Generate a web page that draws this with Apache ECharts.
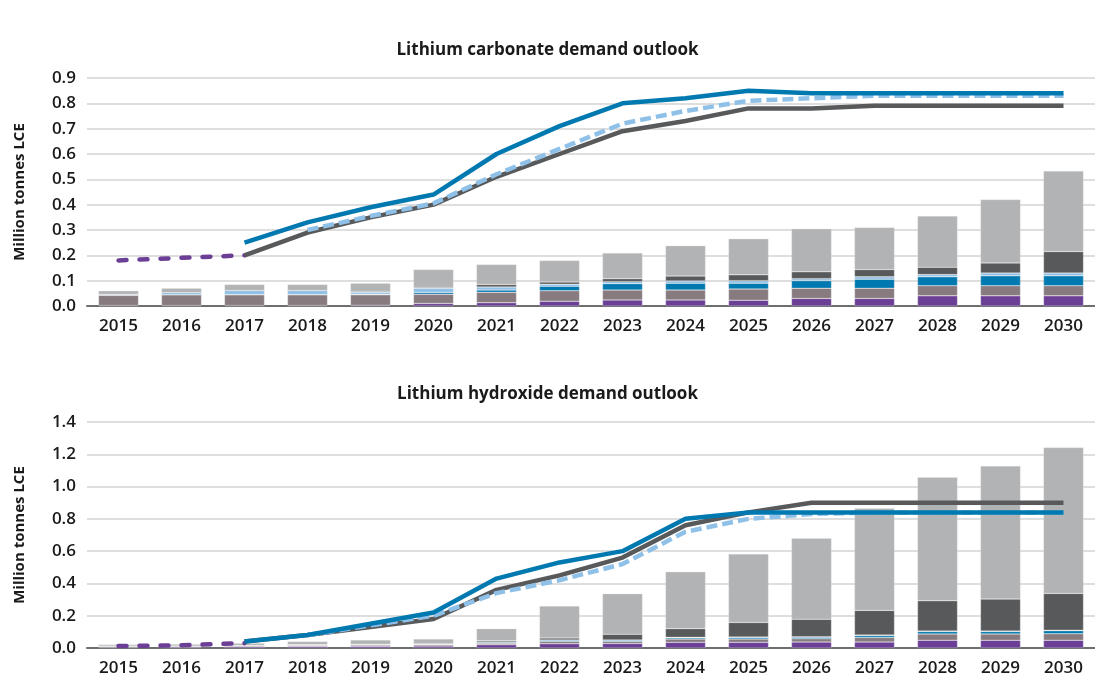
<!DOCTYPE html>
<html>
<head>
<meta charset="utf-8">
<script src="https://cdn.jsdelivr.net/npm/echarts@6/dist/echarts.min.js"></script>
<style>
  html, body { margin: 0; padding: 0; background: #fff; }
  #chart { width: 1095px; height: 680px; }
</style>
</head>
<body>
<div id="chart"></div>
<script>
const years = ["2015","2016","2017","2018","2019","2020","2021","2022","2023","2024","2025","2026","2027","2028","2029","2030"];

// Lithium carbonate - stacked bars (bottom to top)
const carbPurple    = [0.002,0.002,0.002,0.002,0.003,0.010,0.013,0.019,0.024,0.024,0.023,0.030,0.030,0.040,0.040,0.040];
const carbMauve     = [0.040,0.042,0.042,0.042,0.041,0.036,0.041,0.041,0.039,0.039,0.044,0.040,0.040,0.040,0.040,0.040];
const carbBlue      = [0.000,0.000,0.001,0.001,0.002,0.007,0.009,0.018,0.025,0.027,0.023,0.030,0.036,0.035,0.039,0.039];
const carbLightBlue = [0.004,0.009,0.016,0.016,0.008,0.017,0.012,0.008,0.008,0.009,0.010,0.008,0.009,0.009,0.011,0.011];
const carbDarkGrey  = [0.000,0.000,0.000,0.000,0.004,0.004,0.010,0.009,0.012,0.019,0.023,0.027,0.029,0.029,0.040,0.085];
const carbLightGrey = [0.014,0.017,0.024,0.024,0.032,0.070,0.079,0.085,0.101,0.120,0.142,0.170,0.166,0.202,0.250,0.318];

// Lithium carbonate - lines
const carbHist      = [0.18,0.19,0.20,null,null,null,null,null,null,null,null,null,null,null,null,null];
const carbBlueLine  = [null,null,0.25,0.33,0.39,0.44,0.60,0.71,0.80,0.82,0.85,0.84,0.84,0.84,0.84,0.84];
const carbGreyLine  = [null,null,0.20,0.29,0.35,0.40,0.51,0.60,0.69,0.73,0.78,0.78,0.79,0.79,0.79,0.79];
const carbDashLine  = [null,null,null,0.30,0.355,0.405,0.52,0.62,0.72,0.77,0.81,0.82,0.83,0.83,0.83,0.83];

// Lithium hydroxide - stacked bars (bottom to top)
const hydPurple    = [0.005,0.006,0.008,0.010,0.011,0.012,0.020,0.026,0.028,0.035,0.035,0.037,0.037,0.048,0.048,0.048];
const hydMauve     = [0.005,0.005,0.006,0.006,0.007,0.008,0.010,0.014,0.013,0.020,0.020,0.020,0.028,0.039,0.039,0.040];
const hydBlue      = [0.000,0.000,0.000,0.001,0.001,0.002,0.005,0.008,0.007,0.008,0.010,0.010,0.012,0.015,0.015,0.019];
const hydLightBlue = [0.001,0.001,0.001,0.001,0.001,0.002,0.002,0.002,0.002,0.003,0.003,0.003,0.003,0.003,0.003,0.003];
const hydDarkGrey  = [0.001,0.001,0.002,0.003,0.004,0.004,0.008,0.012,0.035,0.054,0.090,0.108,0.153,0.188,0.198,0.228];
const hydLightGrey = [0.010,0.011,0.013,0.019,0.026,0.028,0.075,0.198,0.251,0.352,0.425,0.502,0.632,0.764,0.824,0.904];

// Lithium hydroxide - lines
const hydHist      = [0.012,0.017,0.030,null,null,null,null,null,null,null,null,null,null,null,null,null];
const hydBlueLine  = [null,null,0.04,0.08,0.15,0.22,0.43,0.53,0.60,0.80,0.84,0.84,0.84,0.84,0.84,0.84];
const hydGreyLine  = [null,null,0.04,0.08,0.13,0.18,0.36,0.45,0.56,0.76,0.84,0.90,0.90,0.90,0.90,0.90];
const hydDashLine  = [null,null,null,0.08,0.14,0.20,0.34,0.42,0.52,0.72,0.80,0.83,0.84,0.84,0.84,0.84];

const colors = {
    purple: "#6c3f97",
    mauve: "#877b80",
    blue: "#0078b0",
    lightBlue: "#8fc1e8",
    darkGrey: "#58595b",
    lightGrey: "#b2b3b5"
};

const font = "'Open Sans', sans-serif";

function barSeries(name, data, color, idx, stack) {
    return {
        name: name,
        type: "bar",
        stack: stack,
        xAxisIndex: idx,
        yAxisIndex: idx,
        barWidth: 40,
        data: data,
        itemStyle: { color: color, borderColor: "rgba(230,230,230,0.6)", borderWidth: 0.5 },
        emphasis: { disabled: true },
        z: 2
    };
}

// dash: null for solid, otherwise [dash, gap] plus cap style
function lineSeries(name, data, color, idx, dash, cap) {
    return {
        name: name,
        type: "line",
        xAxisIndex: idx,
        yAxisIndex: idx,
        data: data,
        symbol: "none",
        connectNulls: false,
        lineStyle: {
            color: color,
            width: 4.5,
            type: dash || "solid",
            cap: cap || "butt"
        },
        z: 5
    };
}

function makeX(idx) {
    return {
        type: "category",
        gridIndex: idx,
        data: years,
        axisTick: { show: false },
        axisLine: { lineStyle: { color: "#6d6e70", width: 2 } },
        axisLabel: { color: "#1a1a1a", fontSize: 17, fontWeight: 600, fontFamily: font, margin: 12 }
    };
}

function makeY(idx, max, interval) {
    return {
        type: "value",
        gridIndex: idx,
        min: 0,
        max: max,
        interval: interval,
        name: "Million tonnes LCE",
        nameLocation: "middle",
        nameGap: 60,
        nameTextStyle: { color: "#1a1a1a", fontSize: 15, fontWeight: "bold", fontFamily: font },
        axisLine: { show: false },
        axisTick: { show: false },
        splitLine: { lineStyle: { color: "#dedede", width: 2 } },
        axisLabel: {
            color: "#1a1a1a", fontSize: 17, fontWeight: 600, fontFamily: font, margin: 11,
            formatter: v => v.toFixed(1)
        }
    };
}

const purpleDash = [8, 13];
const blueDash = [11, 5];

const chart = echarts.init(document.getElementById("chart"));
chart.setOption({
    animation: false,
    title: [
        { text: "Lithium carbonate demand outlook", left: "center", top: 37,
          textStyle: { fontSize: 17, fontWeight: "bold", color: "#1a1a1a", fontFamily: font } },
        { text: "Lithium hydroxide demand outlook", left: "center", top: 381,
          textStyle: { fontSize: 17, fontWeight: "bold", color: "#1a1a1a", fontFamily: font } }
    ],
    grid: [
        { left: 87, top: 78, width: 1013, height: 228 },
        { left: 87, top: 422, width: 1013, height: 226 }
    ],
    xAxis: [makeX(0), makeX(1)],
    yAxis: [makeY(0, 0.9, 0.1), makeY(1, 1.4, 0.2)],
    series: [
        barSeries("c1", carbPurple, colors.purple, 0, "carb"),
        barSeries("c2", carbMauve, colors.mauve, 0, "carb"),
        barSeries("c3", carbBlue, colors.blue, 0, "carb"),
        barSeries("c4", carbLightBlue, colors.lightBlue, 0, "carb"),
        barSeries("c5", carbDarkGrey, colors.darkGrey, 0, "carb"),
        barSeries("c6", carbLightGrey, colors.lightGrey, 0, "carb"),
        lineSeries("c hist", carbHist, colors.purple, 0, purpleDash, "round"),
        lineSeries("c grey", carbGreyLine, colors.darkGrey, 0),
        lineSeries("c dash", carbDashLine, colors.lightBlue, 0, blueDash),
        lineSeries("c blue", carbBlueLine, colors.blue, 0),

        barSeries("h1", hydPurple, colors.purple, 1, "hyd"),
        barSeries("h2", hydMauve, colors.mauve, 1, "hyd"),
        barSeries("h3", hydBlue, colors.blue, 1, "hyd"),
        barSeries("h4", hydLightBlue, colors.lightBlue, 1, "hyd"),
        barSeries("h5", hydDarkGrey, colors.darkGrey, 1, "hyd"),
        barSeries("h6", hydLightGrey, colors.lightGrey, 1, "hyd"),
        lineSeries("h hist", hydHist, colors.purple, 1, purpleDash, "round"),
        lineSeries("h grey", hydGreyLine, colors.darkGrey, 1),
        lineSeries("h dash", hydDashLine, colors.lightBlue, 1, blueDash),
        lineSeries("h blue", hydBlueLine, colors.blue, 1)
    ]
});
</script>
</body>
</html>
